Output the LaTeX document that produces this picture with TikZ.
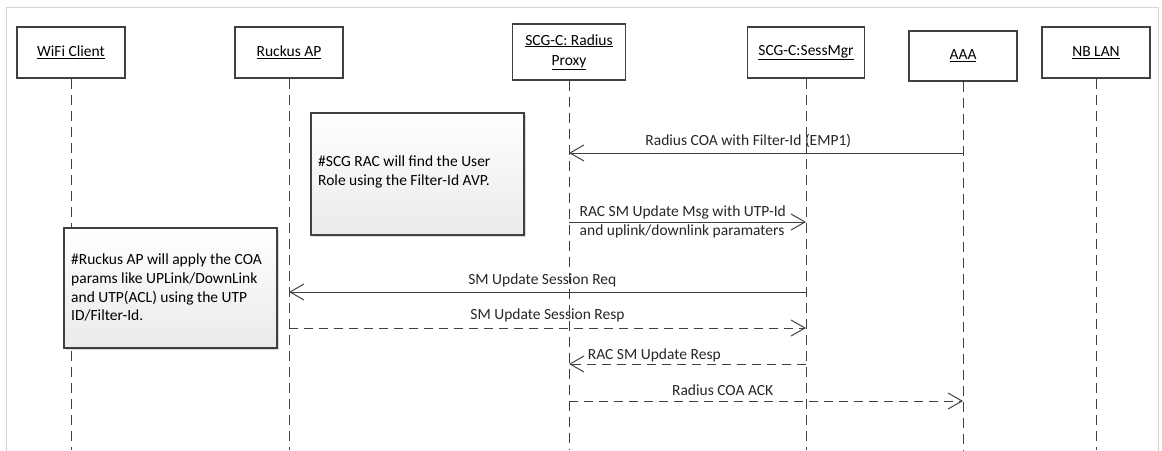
\documentclass[tikz,border=0pt]{standalone}
\usepackage{fontspec}
\setmainfont{Carlito}
\usetikzlibrary{arrows.meta,shadows}
\definecolor{linegray}{RGB}{64,64,64}
\definecolor{framegray}{RGB}{212,212,212}
\definecolor{notegray}{RGB}{234,234,234}
\begin{document}
\begin{tikzpicture}[x=1pt,y=-1pt,
  actor/.style={draw=linegray, line width=1.2pt, minimum width=108pt, minimum height=51pt, inner sep=2pt, align=center, font=\fontsize{15.5}{20}\selectfont},
  lifeline/.style={draw=linegray, line width=0.9pt, dash pattern=on 10pt off 6pt},
  msg/.style={draw=linegray, line width=1pt, -{Straight Barb[length=14pt,width=16pt]}},
  reply/.style={msg, dash pattern=on 9pt off 6pt},
  note/.style={draw=linegray, line width=1.1pt, top color=white, bottom color=notegray, drop shadow={shadow xshift=2pt,shadow yshift=-2pt,opacity=0.3}},
  notetext/.style={align=left, inner sep=0pt, anchor=north west, font=\fontsize{15.5}{18.8}\selectfont},
  label/.style={font=\fontsize{15.5}{19}\selectfont, text=black!85, inner sep=1pt}]
\useasboundingbox (0,0) rectangle (1162,450);
% Draw frame
\draw[framegray, line width=1pt] (6,452) -- (6,7) -- (1158,7) -- (1158,452);
% Draw actors
\node[actor] (wifi) at (71,52.5) {\underline{WiFi Client}};
\node[actor] (ap) at (289,52.5) {\underline{Ruckus AP}};
\node[actor, minimum width=113pt, minimum height=56pt] (proxy) at (569,52) {\underline{SCG-C: Radius}\\\underline{Proxy}};
\node[actor, minimum width=117pt] (sessmgr) at (806,52.5) {\underline{SCG-C:SessMgr}};
\node[actor, minimum height=50pt] (aaa) at (963,56) {\underline{AAA}};
\node[actor] (nblan) at (1096,52.5) {\underline{NB LAN}};
% Draw lifelines
\coordinate (bottom) at (0,450);
\foreach \n in {wifi,ap,proxy,sessmgr,aaa,nblan}
  \draw[lifeline] (\n.south) -- (\n.south |- bottom);
% Draw notes
\node[note, minimum width=213pt, minimum height=122pt] (racnote) at (417.5,174) {};
\node[notetext] (ractext) at (318,155.5) {\#SCG RAC will find the User\\Role using the Filter-Id AVP.};
\node[note, minimum width=213pt, minimum height=120pt] (apnote) at (170.5,288) {};
\node[notetext] (aptext) at (71,253.5) {\#Ruckus AP will apply the COA\\params like UPLink/DownLink\\and UTP(ACL) using the UTP\\ID/Filter-Id.};
% Message points
\coordinate (coa-aaa) at (aaa.south |- 0,153);
\coordinate (coa-proxy) at (proxy.south |- 0,153);
\coordinate (upd-proxy) at (proxy.south |- 0,222);
\coordinate (upd-sm) at (sessmgr.south |- 0,222);
\coordinate (req-sm) at (sessmgr.south |- 0,292);
\coordinate (req-ap) at (ap.south |- 0,292);
\coordinate (resp-ap) at (ap.south |- 0,328);
\coordinate (resp-sm) at (sessmgr.south |- 0,328);
\coordinate (rac-sm) at (sessmgr.south |- 0,364);
\coordinate (rac-proxy) at (proxy.south |- 0,364);
\coordinate (ack-proxy) at (proxy.south |- 0,401);
\coordinate (ack-aaa) at (aaa.south |- 0,401);
% Draw messages
\draw[msg] (coa-aaa) -- (coa-proxy) node[label, pos=0.545, above=3.5pt] {Radius COA with Filter-Id (EMP1)};
\draw[msg] (upd-proxy) -- (upd-sm) node[label, pos=0.48, align=left] {RAC SM Update Msg with UTP-Id\\and uplink/downlink paramaters};
\draw[msg] (req-sm) -- (req-ap) node[label, pos=0.51, above=3.5pt] {SM Update Session Req};
\draw[reply] (resp-ap) -- (resp-sm) node[label, midway, above=4.5pt] {SM Update Session Resp};
\draw[reply] (rac-sm) -- (rac-proxy) node[label, pos=0.64, above=0.5pt] {RAC SM Update Resp};
\draw[reply] (ack-proxy) -- (ack-aaa) node[label, pos=0.39, above=3.5pt] {Radius COA ACK};
\end{tikzpicture}
\end{document}
